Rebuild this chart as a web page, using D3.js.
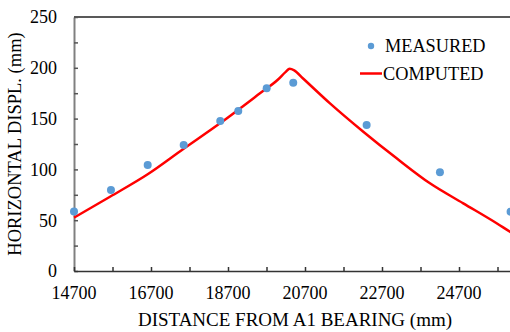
<!DOCTYPE html>
<html><head><meta charset="utf-8">
<script src="https://cdn.jsdelivr.net/npm/d3@7"></script>
<style>body{margin:0;background:#fff}svg{display:block}</style>
</head><body>
<script>
const measuredX = [14700, 15660, 16614, 17549, 18499, 18967, 19705, 20395, 22301, 24205, 26040];
const measuredY = [58.5, 79.7, 104.3, 124, 147.6, 157.5, 179.8, 185.3, 143.7, 97.1, 58.4];
const computedX = [14700, 15635, 16614, 17539, 18492, 19530, 20000, 20200, 20300, 20420, 20650, 21349, 22214, 23080, 23945, 24811, 25677, 26023, 26400];
const computedY = [52.5, 73.1, 95.2, 120.1, 145.4, 174.9, 188.5, 196, 199, 197.5, 189.5, 165, 137.1, 110.9, 86.3, 66.6, 47, 38.7, 30];
const xTicks = [14700, 16700, 18700, 20700, 22700, 24700];
const yTicks = [0, 50, 100, 150, 200, 250];
const legendLabels = ["MEASURED", "COMPUTED"];

const FONT = "'Liberation Serif', 'Times New Roman', 'DejaVu Serif', serif";
const W = 510, H = 332;
const m = {left: 74, top: 17, right: 536, bottom: 271};
const svg = d3.select("body").append("svg").attr("width", W).attr("height", H)
  .attr("font-family", FONT);
const x = d3.scaleLinear().domain([14700, 26700]).range([m.left, m.right]);
const y = d3.scaleLinear().domain([0, 250]).range([m.bottom, m.top]);

// top border
svg.append("line").attr("x1", m.left).attr("x2", m.right).attr("y1", y(250)).attr("y2", y(250))
  .attr("stroke", "#222").attr("stroke-width", 1.5);

// y axis
const ya = svg.append("g").attr("transform", `translate(${m.left},0)`)
  .call(d3.axisLeft(y).tickValues(d3.range(0, 251, 25)).tickSizeInner(-4).tickSizeOuter(0).tickFormat(""));
ya.select(".domain").attr("stroke", "#808080").attr("stroke-width", 2);
ya.selectAll(".tick line").attr("stroke", "#555").attr("stroke-width", 1.5);
svg.append("g").selectAll("text").data(yTicks).join("text")
  .attr("font-family", FONT)
  .attr("x", 57).attr("y", d => y(d)).attr("dy", "0.35em").attr("text-anchor", "end")
  .attr("font-size", 18).attr("fill", "#000").text(d => d);

// x axis
const xa = svg.append("g").attr("transform", `translate(0,${m.bottom})`)
  .call(d3.axisBottom(x).tickValues(d3.range(14700, 26701, 1000)).tickSizeInner(-4).tickSizeOuter(0).tickFormat(""));
xa.select(".domain").attr("stroke", "#333").attr("stroke-width", 1.5);
xa.selectAll(".tick line").attr("stroke", "#333").attr("stroke-width", 1.5);
svg.append("g").selectAll("text").data(xTicks).join("text")
  .attr("font-family", FONT)
  .attr("x", d => x(d)).attr("y", 299).attr("text-anchor", "middle")
  .attr("font-size", 18).attr("fill", "#000").text(d => d);

// titles
svg.append("text").attr("font-family", FONT).attr("x", 295).attr("y", 326).attr("text-anchor", "middle")
  .attr("font-size", 19).attr("fill", "#000").text("DISTANCE FROM A1 BEARING (mm)");
svg.append("text").attr("font-family", FONT).attr("transform", "translate(21,144) rotate(-90)").attr("text-anchor", "middle")
  .attr("font-size", 18.5).attr("fill", "#000").text("HORIZONTAL  DISPL. (mm)");

// computed line
const pts = computedX.map((d, i) => [d, computedY[i]]);
svg.append("path").datum(pts)
  .attr("d", d3.line().x(d => x(d[0])).y(d => y(d[1])).curve(d3.curveMonotoneX))
  .attr("fill", "none").attr("stroke", "#FF0000").attr("stroke-width", 2.5);

// measured points
svg.append("g").selectAll("circle").data(measuredX.map((d, i) => [d, measuredY[i]])).join("circle")
  .attr("cx", d => x(d[0])).attr("cy", d => y(d[1])).attr("r", 4).attr("fill", "#5B9BD5");

// legend
svg.append("circle").attr("cx", 371).attr("cy", 46).attr("r", 3.2).attr("fill", "#5B9BD5");
svg.append("text").attr("font-family", FONT).attr("x", 385).attr("y", 52).attr("font-size", 18.3).attr("fill", "#000").text(legendLabels[0]);
svg.append("line").attr("x1", 360).attr("x2", 382).attr("y1", 73.5).attr("y2", 73.5)
  .attr("stroke", "#FF0000").attr("stroke-width", 2.5);
svg.append("text").attr("font-family", FONT).attr("x", 383).attr("y", 80).attr("font-size", 18.3).attr("fill", "#000").text(legendLabels[1]);
</script>
</body></html>
